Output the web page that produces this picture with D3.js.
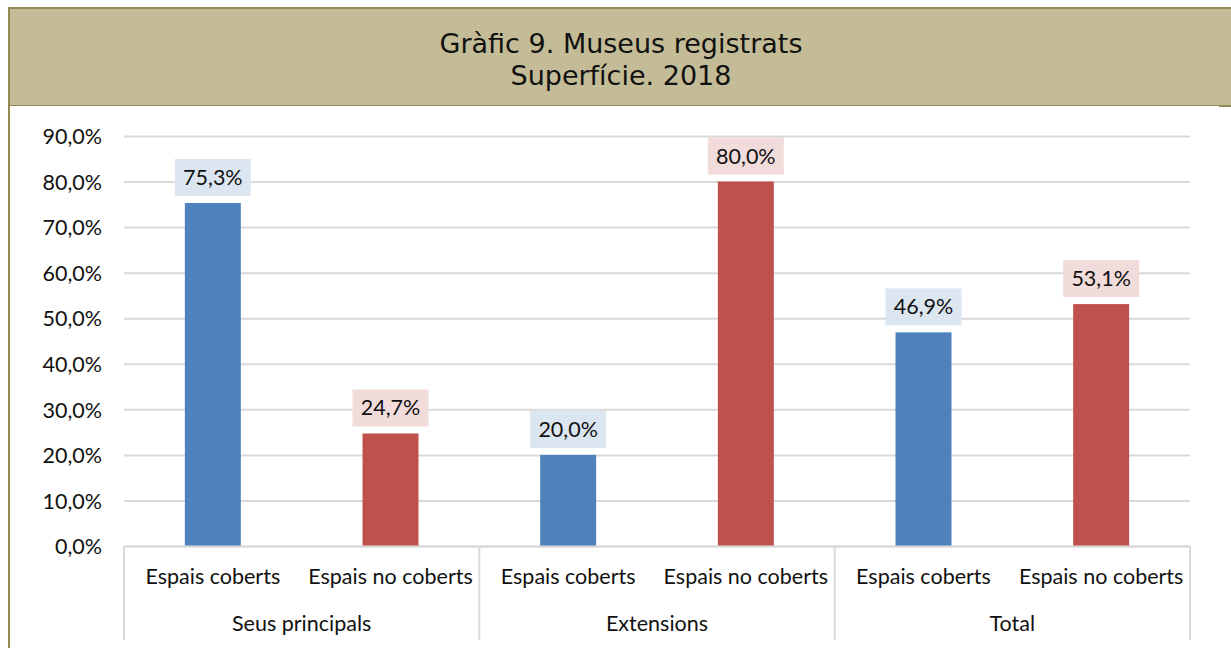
<!DOCTYPE html>
<meta charset="utf-8">
<style>
body{margin:0;background:white;}
svg{display:block;}
.tick text{font-family:Lato,"Liberation Sans",sans-serif;font-size:21.5px;fill:#111;}
.lbl{font-family:Lato,"Liberation Sans",sans-serif;font-size:21.5px;fill:#111;}
.title{font-family:"DejaVu Sans",Verdana,sans-serif;font-size:27px;fill:#111;}
</style>
<body>
<script src="https://cdn.jsdelivr.net/npm/d3@7"></script>
<script>
// data
var groups = ["Seus principals", "Extensions", "Total"];
var series = ["Espais coberts", "Espais no coberts"];
var values = [
  [75.3, 24.7],
  [20.0, 80.0],
  [46.9, 53.1]
];
var yTicks = [0, 10, 20, 30, 40, 50, 60, 70, 80, 90];
var barColors = ["#4f81bd", "#c0504d"];
var boxColors = ["#dce6f1", "#f2dcdb"];

var W = 1231, H = 648;
var svg = d3.select("body").append("svg").attr("width", W).attr("height", H);

// title panel
svg.append("rect").attr("x", 9).attr("y", 8).attr("width", W - 9).attr("height", 98)
  .attr("fill", "#c4bc96");
svg.append("line").attr("x1", 8).attr("x2", W).attr("y1", 8).attr("y2", 8)
  .attr("stroke", "#948a54").attr("stroke-width", 2);
svg.append("line").attr("x1", 8).attr("x2", W).attr("y1", 105.5).attr("y2", 105.5)
  .attr("stroke", "#948a54").attr("stroke-width", 1);
svg.append("line").attr("x1", 9).attr("x2", 9).attr("y1", 7).attr("y2", H)
  .attr("stroke", "#948a54").attr("stroke-width", 2);
svg.append("line").attr("x1", 1219).attr("x2", W).attr("y1", 106.5).attr("y2", 106.5)
  .attr("stroke", "#948a54").attr("stroke-width", 1);

svg.append("text").attr("class", "title").attr("x", 621).attr("y", 53)
  .attr("text-anchor", "middle").text("Gràfic 9. Museus registrats");
svg.append("text").attr("class", "title").attr("x", 621).attr("y", 85)
  .attr("text-anchor", "middle").text("Superfície. 2018");

var pl = 124, pr = 1190, pt = 136, pb = 546;

var rows = [];
groups.forEach(function (g, gi) {
  series.forEach(function (s, si) {
    rows.push({key: gi + "|" + si, group: g, cat: s, si: si, v: values[gi][si]});
  });
});

var x = d3.scaleBand().domain(rows.map(function (d) { return d.key; }))
  .range([pl, pr]).paddingInner(0.685).paddingOuter(0.3425);
var xg = d3.scaleBand().domain(groups).range([pl, pr]);
var y = d3.scaleLinear().domain([0, 90]).range([pb, pt]);

var fmt = function (v) { return d3.format(".1f")(v).replace(".", ",") + "%"; };

// y axis + grid
var ya = svg.append("g").attr("transform", "translate(" + pl + ",0)")
  .call(d3.axisLeft(y).tickValues(yTicks).tickSize(-(pr - pl)).tickPadding(22).tickFormat(fmt));
ya.select(".domain").remove();
ya.selectAll(".tick line").attr("stroke", "#d9d9d9").attr("stroke-width", 2);
ya.selectAll(".tick text").attr("dy", "0.36em");

// bars
svg.selectAll("rect.bar").data(rows).enter().append("rect").attr("class", "bar")
  .attr("x", function (d) { return x(d.key); })
  .attr("width", x.bandwidth())
  .attr("y", function (d) { return y(d.v); })
  .attr("height", function (d) { return pb - y(d.v); })
  .attr("fill", function (d) { return barColors[d.si]; });

// value labels
var lab = svg.selectAll("g.vl").data(rows).enter().append("g").attr("class", "vl")
  .attr("transform", function (d) {
    return "translate(" + (x(d.key) + x.bandwidth() / 2) + "," + (y(d.v) - 7) + ")";
  });
lab.append("rect").attr("x", -38).attr("y", -37).attr("width", 76).attr("height", 37)
  .attr("fill", function (d) { return boxColors[d.si]; });
lab.append("text").attr("class", "lbl").attr("text-anchor", "middle").attr("y", -11)
  .text(function (d) { return fmt(d.v); });

// category axis
svg.append("line").attr("x1", pl).attr("x2", pr).attr("y1", pb + 0.5).attr("y2", pb + 0.5)
  .attr("stroke", "#d9d9d9").attr("stroke-width", 2);
svg.selectAll("line.sep").data(groups.concat(["end"])).enter().append("line").attr("class", "sep")
  .attr("x1", function (d, i) { return pl + i * xg.bandwidth(); })
  .attr("x2", function (d, i) { return pl + i * xg.bandwidth(); })
  .attr("y1", pb).attr("y2", 640)
  .attr("stroke", "#d9d9d9").attr("stroke-width", 2);

svg.selectAll("text.cat").data(rows).enter().append("text").attr("class", "lbl cat")
  .attr("text-anchor", "middle")
  .attr("x", function (d) { return x(d.key) + x.bandwidth() / 2; })
  .attr("y", 584)
  .text(function (d) { return d.cat; });

svg.selectAll("text.grp").data(groups).enter().append("text").attr("class", "lbl grp")
  .attr("text-anchor", "middle")
  .attr("x", function (d) { return xg(d) + xg.bandwidth() / 2; })
  .attr("y", 631)
  .text(function (d) { return d; });
</script>
</body>
